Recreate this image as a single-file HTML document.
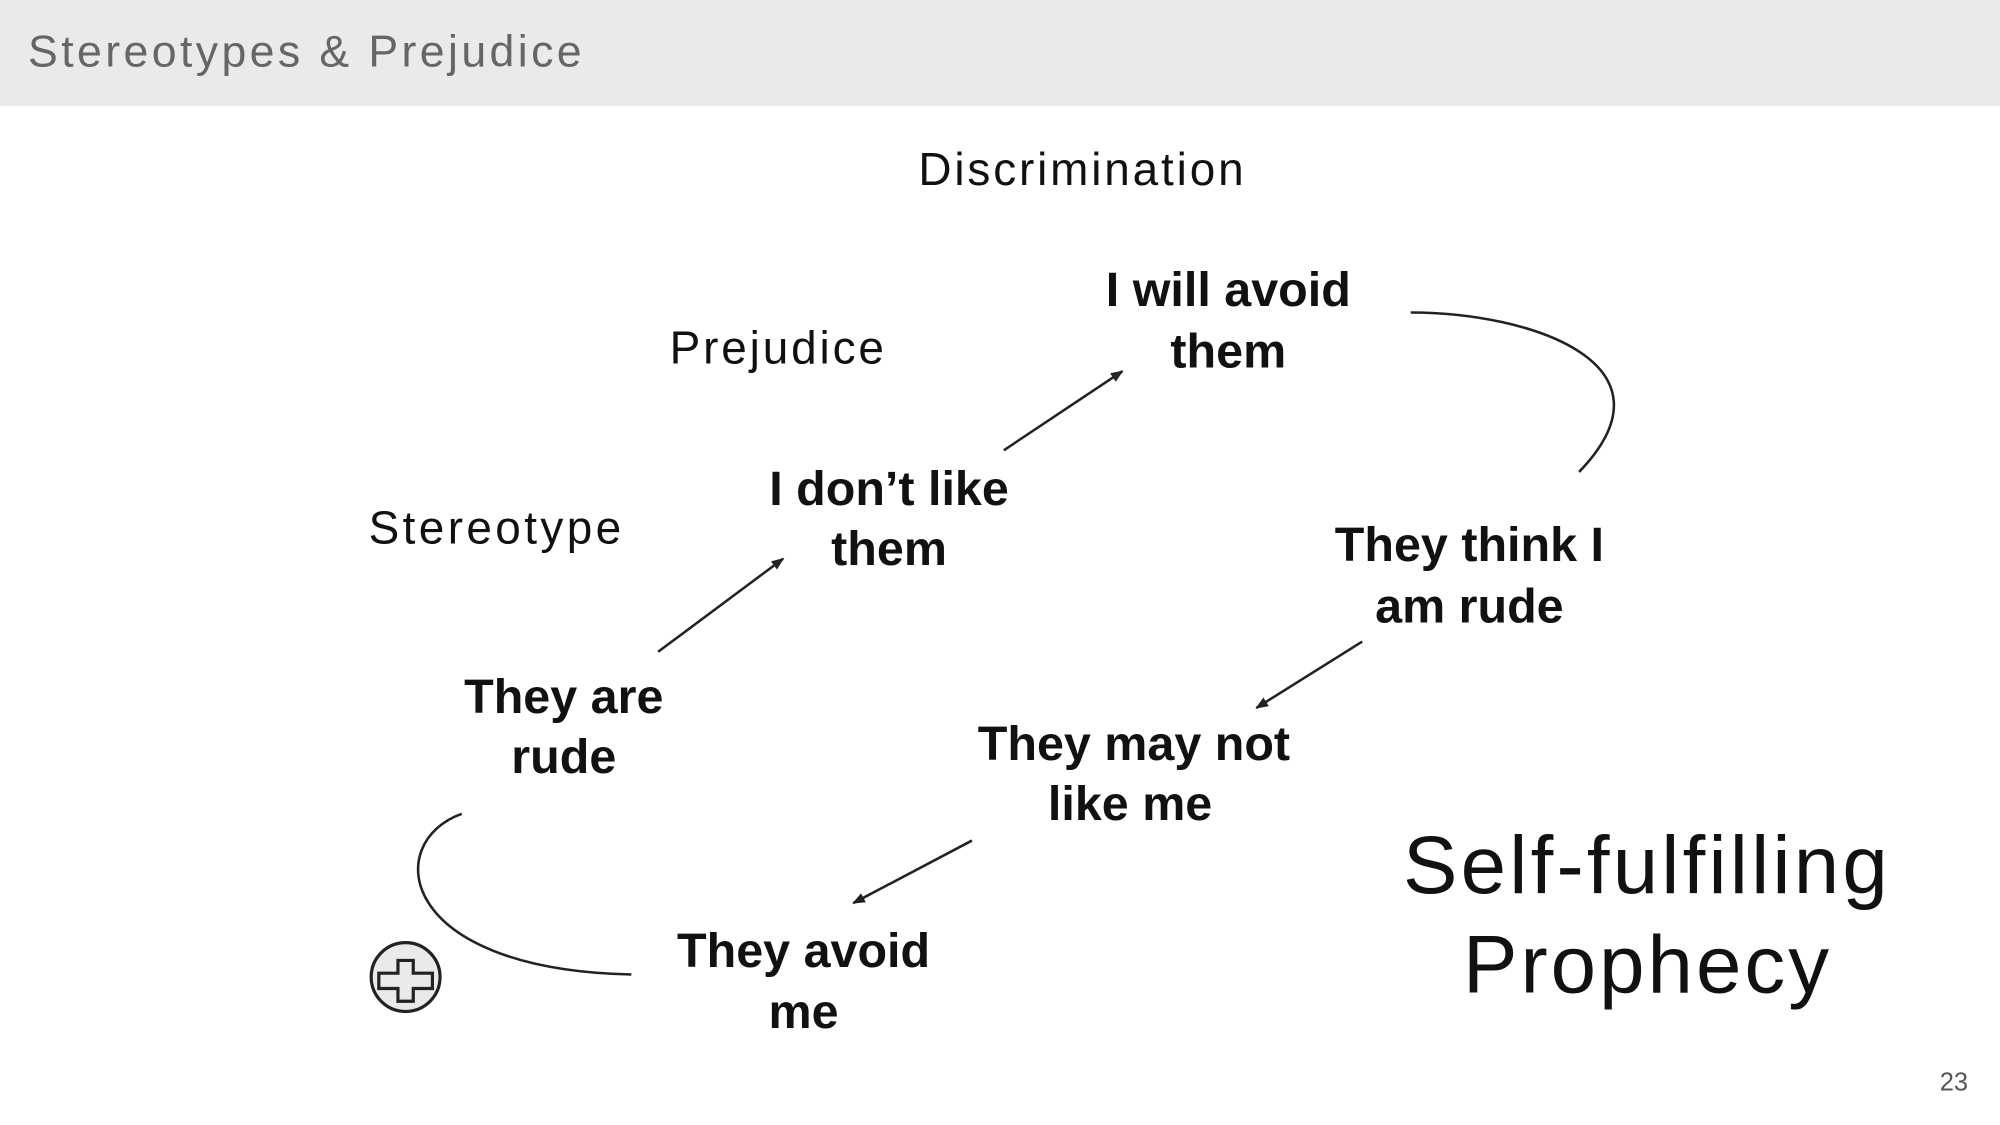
<!DOCTYPE html>
<html><head><meta charset="utf-8"><style>
html,body{margin:0;padding:0;background:#fff;}
svg{display:block;}
text{font-family:"Liberation Sans",sans-serif;}
.b{font-weight:bold;font-size:38px;fill:#111;text-anchor:middle;}
.l{font-size:36px;fill:#111;}
</style></head><body>
<svg width="2000" height="1125" viewBox="0 0 1568 882" xmlns="http://www.w3.org/2000/svg">
<defs><marker id="a" markerWidth="10" markerHeight="8" refX="9" refY="4" orient="auto" markerUnits="userSpaceOnUse"><path d="M0,0 L10,4 L0,8 z" fill="#222"/></marker></defs>
<rect x="0" y="0" width="1568" height="83" fill="#e8eaeb"/>
<text x="22" y="52" font-size="35" fill="#666" textLength="434">Stereotypes &amp; Prejudice</text>
<text class="l" x="720" y="145" textLength="255">Discrimination</text>
<text class="l" x="525" y="285" textLength="168">Prejudice</text>
<text class="l" x="289" y="426" textLength="198">Stereotype</text>
<text class="b" x="963" y="240">I will avoid</text><text class="b" x="963" y="288">them</text>
<text class="b" x="697" y="396">I don’t like</text><text class="b" x="697" y="443">them</text>
<text class="b" x="1152" y="440">They think I</text><text class="b" x="1152" y="488">am rude</text>
<text class="b" x="442" y="559">They are</text><text class="b" x="442" y="606">rude</text>
<text class="b" x="889" y="596">They may not</text><text class="b" x="886" y="643">like me</text>
<text class="b" x="630" y="758">They avoid</text><text class="b" x="630" y="806">me</text>
<text x="1100" y="700" font-size="64" fill="#111" textLength="380">Self-fulfilling</text>
<text x="1147" y="778" font-size="64" fill="#111" textLength="287">Prophecy</text>
<text x="1543" y="855" font-size="20" fill="#555" text-anchor="end">23</text>
<g stroke="#222" stroke-width="2" fill="none">
<line x1="516" y1="511" x2="614" y2="438" marker-end="url(#a)"/>
<line x1="787" y1="353" x2="880" y2="291" marker-end="url(#a)"/>
<line x1="1068" y1="503" x2="985" y2="555" marker-end="url(#a)"/>
<line x1="762" y1="659" x2="669" y2="708" marker-end="url(#a)"/>
<path d="M1106,245 C1200,245 1320,285 1238,370"/>
<path d="M362,638 C300,660 310,760 495,764"/>
</g>
<circle cx="318" cy="766" r="27" fill="#e8eaeb" stroke="#222" stroke-width="2.5"/>
<path d="M312,753 h12 v10 h15 v12 h-15 v10 h-12 v-10 h-15 v-12 h15 z" fill="#e8eaeb" stroke="#222" stroke-width="2.5"/>
</svg>
</body></html>
